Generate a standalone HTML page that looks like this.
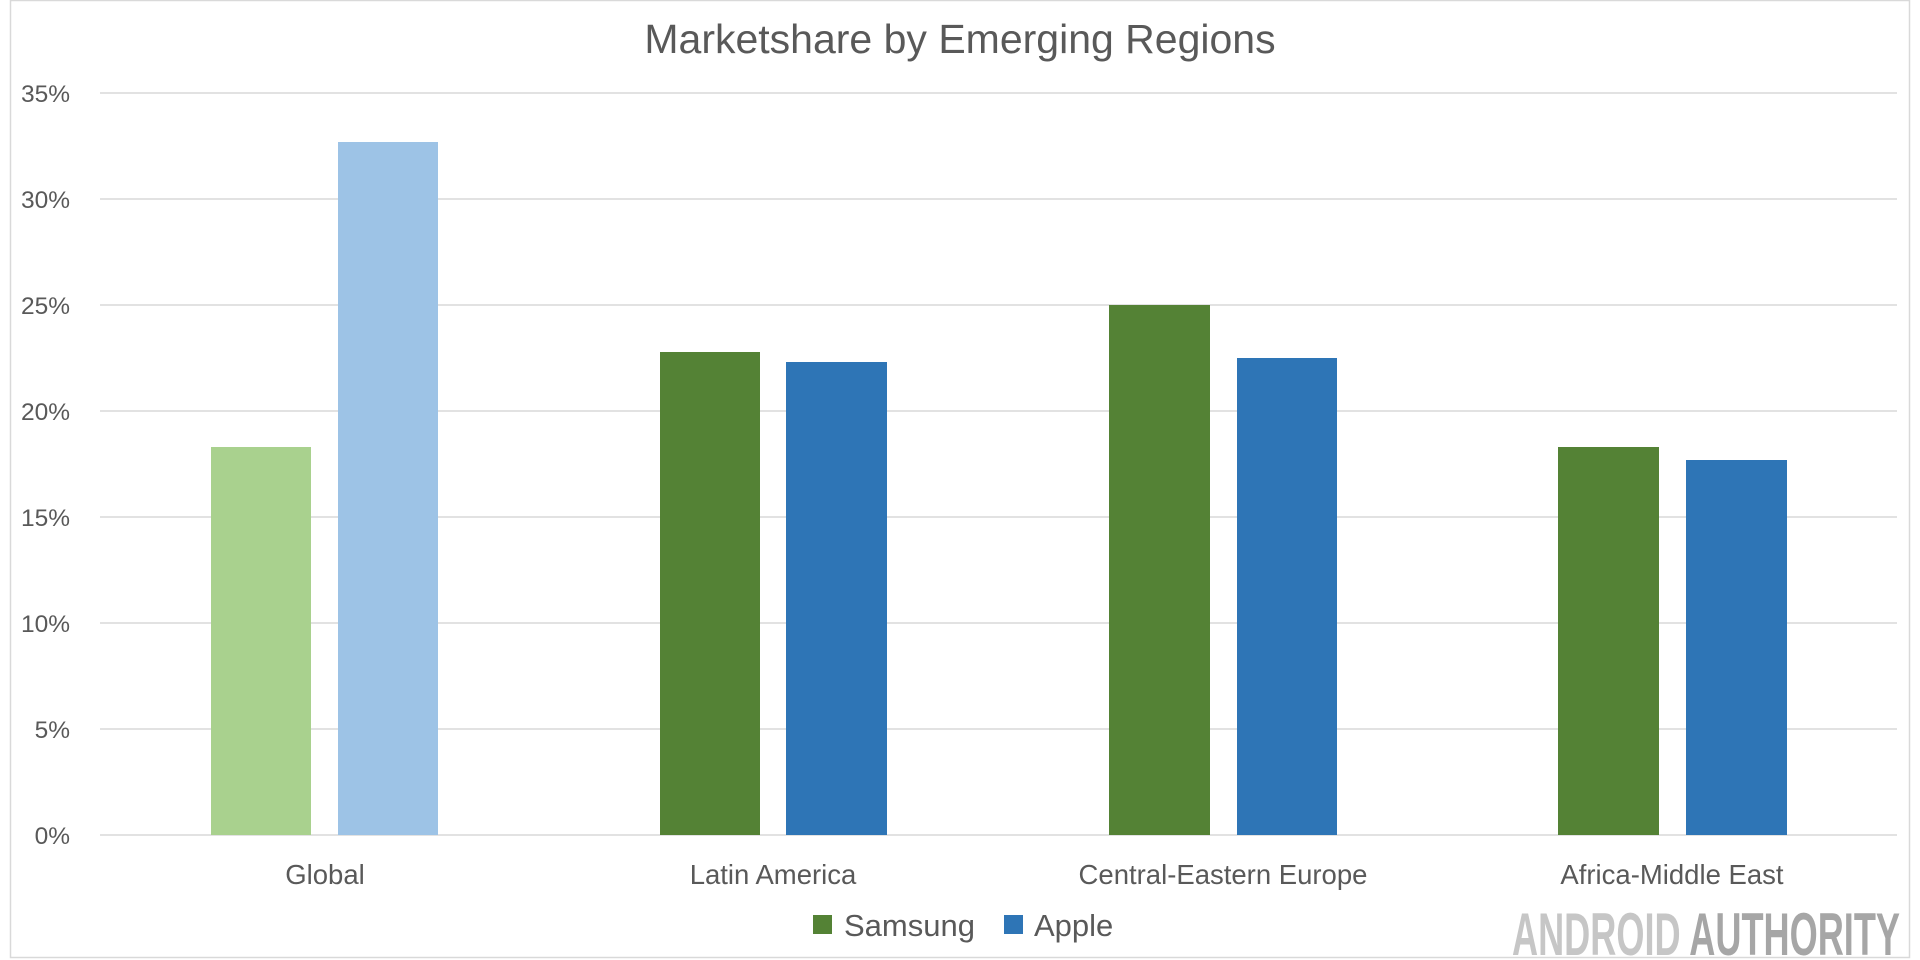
<!DOCTYPE html>
<html><head><meta charset="utf-8"><style>
html,body{margin:0;padding:0;background:#fff;}
svg{display:block;}
text{font-family:"Liberation Sans",sans-serif;}
</style></head><body>
<svg width="1920" height="960" viewBox="0 0 1920 960" xmlns="http://www.w3.org/2000/svg">
<rect x="0" y="0" width="1920" height="960" fill="#fff"/>
<rect x="10.5" y="0.5" width="1899" height="957" fill="none" stroke="#d9d9d9" stroke-width="1.5"/>
<text x="960" y="53" text-anchor="middle" font-size="41" fill="#595959">Marketshare by Emerging Regions</text>
<g stroke="#d9d9d9" stroke-width="1.5">
<line x1="100" x2="1897" y1="93" y2="93"/>
<line x1="100" x2="1897" y1="199" y2="199"/>
<line x1="100" x2="1897" y1="305" y2="305"/>
<line x1="100" x2="1897" y1="411" y2="411"/>
<line x1="100" x2="1897" y1="517" y2="517"/>
<line x1="100" x2="1897" y1="623" y2="623"/>
<line x1="100" x2="1897" y1="729" y2="729"/>
<line x1="100" x2="1897" y1="835" y2="835"/>
</g>
<g font-size="24.5" fill="#595959" text-anchor="end">
<text x="70" y="102">35%</text>
<text x="70" y="208">30%</text>
<text x="70" y="314">25%</text>
<text x="70" y="420">20%</text>
<text x="70" y="526">15%</text>
<text x="70" y="632">10%</text>
<text x="70" y="738">5%</text>
<text x="70" y="844">0%</text>
</g>
<rect x="211" y="447" width="100" height="388" fill="#a9d18e"/>
<rect x="338" y="142" width="100" height="693" fill="#9dc3e6"/>
<rect x="660" y="352" width="100" height="483" fill="#548235"/>
<rect x="786" y="362" width="101" height="473" fill="#2e75b6"/>
<rect x="1109" y="305" width="101" height="530" fill="#548235"/>
<rect x="1237" y="358" width="100" height="477" fill="#2e75b6"/>
<rect x="1558" y="447" width="101" height="388" fill="#548235"/>
<rect x="1686" y="460" width="101" height="375" fill="#2e75b6"/>
<g font-size="27.5" fill="#595959" text-anchor="middle">
<text x="325" y="884">Global</text>
<text x="773" y="884">Latin America</text>
<text x="1223" y="884">Central-Eastern Europe</text>
<text x="1672" y="884">Africa-Middle East</text>
</g>
<rect x="813" y="915" width="19" height="19" fill="#548235"/>
<text x="844" y="936" font-size="31" fill="#595959">Samsung</text>
<rect x="1004" y="915" width="19" height="19" fill="#2e75b6"/>
<text x="1034" y="936" font-size="31" fill="#595959">Apple</text>
<text x="1512" y="955" font-size="60" font-weight="bold" textLength="388" lengthAdjust="spacingAndGlyphs" style="font-family:'Liberation Sans Narrow','Liberation Sans',sans-serif"><tspan fill="#c6c6c6">ANDROID </tspan><tspan fill="#a6a6a6">AUTHORITY</tspan></text>
</svg>
</body></html>
